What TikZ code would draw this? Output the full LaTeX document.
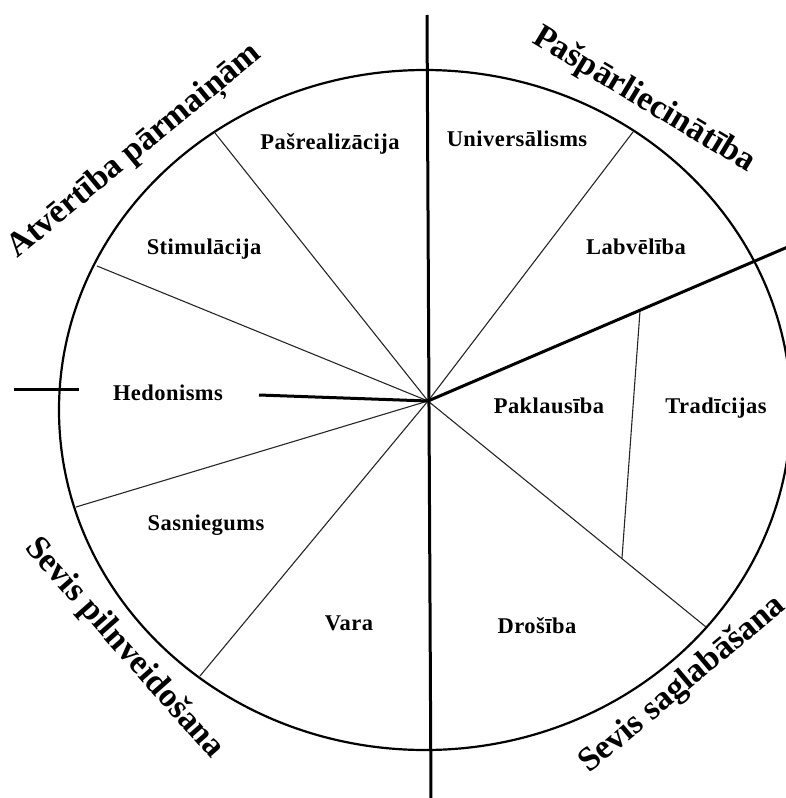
\documentclass[tikz,border=0pt]{standalone}
\usepackage{fontspec}
\setmainfont{Liberation Serif}
\begin{document}
\begin{tikzpicture}[x=1pt,y=-1pt,
  lbl/.style={font=\bfseries\fontsize{22.5}{27}\selectfont\addfontfeature{LetterSpace=2}, anchor=base, inner sep=0pt},
  big/.style={font=\bfseries\fontsize{34}{40}\selectfont, anchor=base west, inner sep=0pt},
  thinline/.style={line width=1.1pt, draw=black!85},
  thickline/.style={line width=3pt},
  rim/.style={line width=2.2pt}]
\useasboundingbox (0,0) rectangle (786,798);
% hub and ends
\coordinate (H) at (428,401);
\coordinate (vt) at (427,15);
\coordinate (vb) at (431,800);
\coordinate (re) at (790,246);
\coordinate (hl) at (259,395);
\coordinate (sl1) at (14,389);
\coordinate (sl2) at (79,389);
\coordinate (p1) at (215,133);
\coordinate (p2) at (97,266);
\coordinate (p3) at (76,507);
\coordinate (p4) at (200,676);
\coordinate (p5) at (633,132);
\coordinate (p6) at (706,627);
\coordinate (t1) at (640,311);
\coordinate (t2) at (622,558);
% rim
\draw[rim] (425,410) ellipse [x radius=366pt, y radius=340pt];
% thin spokes
\draw[thinline] (H) -- (p1);
\draw[thinline] (H) -- (p2);
\draw[thinline] (H) -- (p3);
\draw[thinline] (H) -- (p4);
\draw[thinline] (H) -- (p5);
\draw[thinline] (H) -- (p6);
\draw[thinline] (t1) -- (t2);
% thick lines
\draw[thickline] (vt) -- (vb);
\draw[thickline] (H) -- (re);
\draw[thickline] (hl) -- (H);
\draw[thickline] (sl1) -- (sl2);
% value labels
\node[lbl] (n1) at (330,149) {Pašrealizācija};
\node[lbl] (n2) at (517,146) {Universālisms};
\node[lbl] (n3) at (204,254) {Stimulācija};
\node[lbl] (n4) at (636,254) {Labvēlība};
\node[lbl] (n5) at (168,400) {Hedonisms};
\node[lbl] (n6) at (549,413) {Paklausība};
\node[lbl] (n7) at (716,413) {Tradīcijas};
\node[lbl] (n8) at (206,530) {Sasniegums};
\node[lbl] (n9) at (349,630) {Vara};
\node[lbl] (n10) at (537,633) {Drošība};
% group labels
\node[big, rotate=39.5] (g1) at (17,259) {Atvērtība pārmaiņām};
\node[big, rotate=-31] (g2) at (531,42) {Pašpārliecinātība};
\node[big, rotate=-48.5] (g3) at (24,548) {Sevis pilnveidošana};
\node[big, rotate=40] (g4) at (589,774) {Sevis saglabāšana};
\end{tikzpicture}
\end{document}
